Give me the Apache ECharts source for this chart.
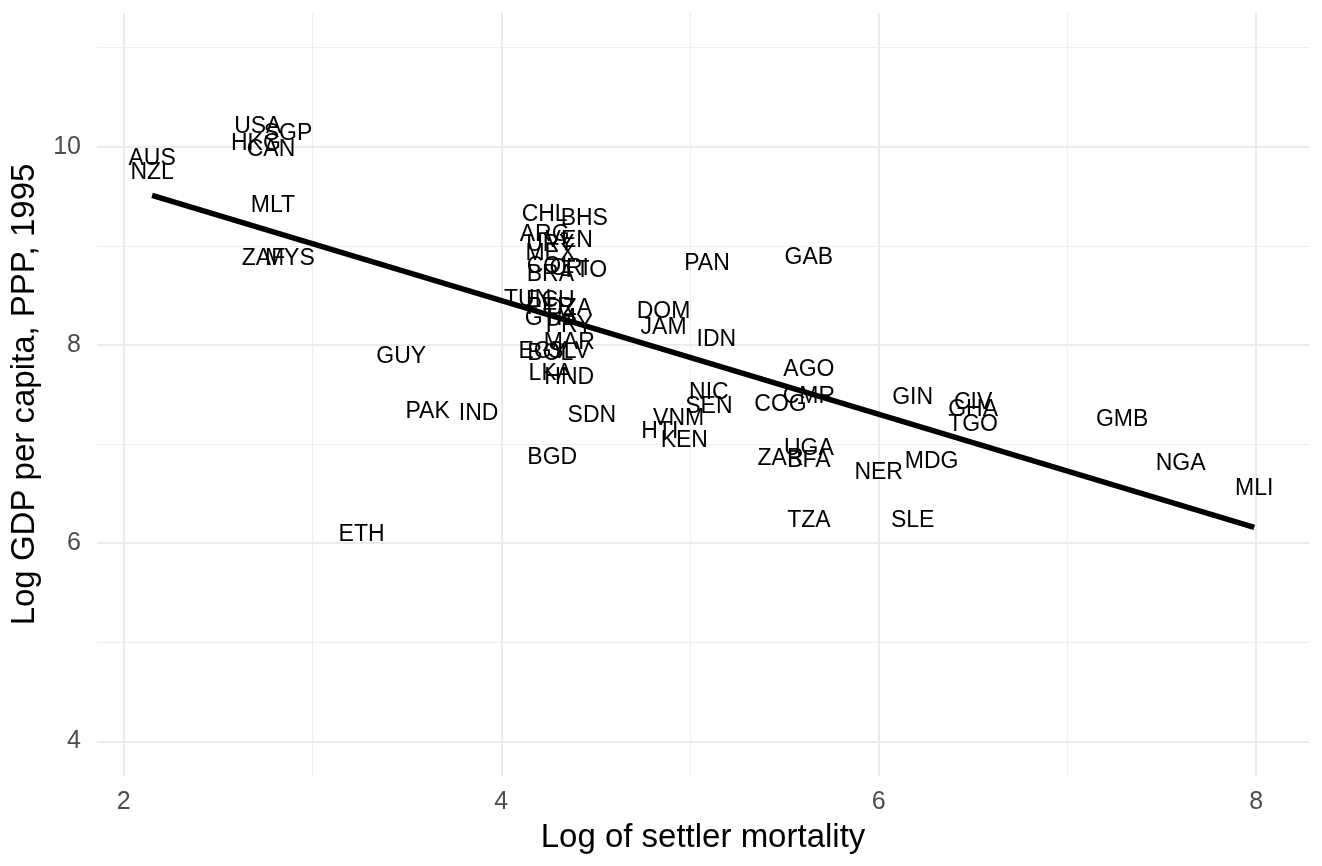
<!DOCTYPE html>
<html>
<head>
<meta charset="utf-8">
<script src="https://cdn.jsdelivr.net/npm/echarts@6/dist/echarts.min.js"></script>
<style>
  html, body { margin: 0; padding: 0; background: #ffffff; }
  #chart { width: 1322px; height: 866px; }
</style>
</head>
<body>
<div id="chart"></div>
<script>
// Country codes, log settler mortality (x), log GDP per capita PPP 1995 (y)
const codes = ['USA','SGP','HKG','CAN','AUS','NZL','MLT','ZAF','MYS','GUY','PAK','IND','ETH',
  'CHL','BHS','ARG','URY','VEN','MEX','COL','CRI','TTO','BRA','TUN','ECU','PER','DZA','GTM','PRY',
  'MAR','EGY','BOL','SLV','LKA','HND','BGD','SDN','DOM','JAM','IDN','PAN','NIC','SEN','VNM','HTI',
  'KEN','GAB','AGO','CMR','COG','UGA','ZAR','BFA','TZA','SLE','NER','MDG','GIN','CIV','GHA','TGO',
  'GMB','NGA','MLI'];
const logMort = [2.71,2.87,2.70,2.78,2.15,2.15,2.79,2.74,2.88,3.47,3.61,3.88,3.26,
  4.23,4.44,4.23,4.26,4.36,4.26,4.26,4.36,4.44,4.26,4.14,4.26,4.26,4.36,4.26,4.36,
  4.36,4.22,4.26,4.36,4.26,4.36,4.27,4.48,4.86,4.86,5.14,5.09,5.10,5.10,4.94,4.84,
  4.97,5.63,5.63,5.63,5.48,5.63,5.48,5.63,5.63,6.18,6.00,6.28,6.18,6.50,6.50,6.50,
  7.29,7.60,7.99];
const logGdp = [10.22,10.15,10.05,9.99,9.90,9.76,9.43,8.89,8.89,7.90,7.35,7.33,6.11,
  9.34,9.29,9.13,9.03,9.07,8.94,8.81,8.79,8.77,8.73,8.48,8.47,8.40,8.39,8.29,8.21,
  8.04,7.95,7.93,7.95,7.73,7.69,6.88,7.31,8.36,8.19,8.07,8.84,7.54,7.40,7.28,7.15,
  7.05,8.90,7.77,7.50,7.42,6.97,6.87,6.85,6.25,6.25,6.73,6.84,7.49,7.44,7.37,7.22,
  7.27,6.82,6.57];
// Fitted OLS line endpoints
const fitX = [2.15, 7.99];
const fitY = [9.51, 6.16];
// Tick values
const xMajor = [2, 4, 6, 8];
const xMinor = [3, 5, 7];
const yMajor = [4, 6, 8, 10];
const yMinor = [5, 7, 9, 11];

const FONT = '"Liberation Sans", Arial, Helvetica, sans-serif';
const pts = codes.map((c, i) => ({ value: [logMort[i], logGdp[i]], name: c }));
const fitLine = fitX.map((x, i) => [x, fitY[i]]);

const xRange = { min: 1.858, max: 8.28 };
const yRange = { min: 3.65, max: 11.35 };

const majorSplit = { show: true, lineStyle: { color: '#EBEBEB', width: 2 } };
const minorSplit = { show: true, lineStyle: { color: '#EEEEEE', width: 1.2 } };

const chart = echarts.init(document.getElementById('chart'), null, { renderer: 'canvas' });
chart.setOption({
  backgroundColor: '#ffffff',
  animation: false,
  grid: { left: 96, right: 13, top: 13, bottom: 90, containLabel: false },
  xAxis: [
    {
      type: 'value', min: xRange.min, max: xRange.max,
      name: 'Log of settler mortality', nameLocation: 'middle', nameGap: 45,
      nameTextStyle: { fontFamily: FONT, fontSize: 33, color: '#000000' },
      axisLine: { show: false },
      axisTick: { show: false, customValues: xMajor },
      axisLabel: { customValues: xMajor, fontFamily: FONT, fontSize: 25, color: '#4D4D4D', margin: 14 },
      splitLine: majorSplit
    },
    {
      type: 'value', min: xRange.min, max: xRange.max, position: 'bottom',
      axisLine: { show: false },
      axisTick: { show: false, customValues: xMinor },
      axisLabel: { show: false, customValues: xMinor },
      splitLine: minorSplit
    }
  ],
  yAxis: [
    {
      type: 'value', min: yRange.min, max: yRange.max,
      name: 'Log GDP per capita, PPP, 1995', nameLocation: 'middle', nameGap: 56,
      nameTextStyle: { fontFamily: FONT, fontSize: 33, color: '#000000' },
      axisLine: { show: false },
      axisTick: { show: false, customValues: yMajor },
      axisLabel: { customValues: yMajor, fontFamily: FONT, fontSize: 25, color: '#4D4D4D', margin: 16 },
      splitLine: majorSplit
    },
    {
      type: 'value', min: yRange.min, max: yRange.max, position: 'left',
      axisLine: { show: false },
      axisTick: { show: false, customValues: yMinor },
      axisLabel: { show: false, customValues: yMinor },
      splitLine: minorSplit
    }
  ],
  series: [
    {
      type: 'line', data: fitLine, xAxisIndex: 0, yAxisIndex: 0,
      symbol: 'none', lineStyle: { color: '#000000', width: 5.5 }, z: 3, silent: true
    },
    {
      type: 'scatter', data: pts, xAxisIndex: 0, yAxisIndex: 0,
      symbol: 'rect', symbolSize: 2, itemStyle: { color: '#ffffff', opacity: 0 }, z: 4,
      silent: true,
      label: {
        show: true, position: [1, 3], formatter: '{b}',
        fontFamily: FONT, fontSize: 23, color: '#000000', opacity: 1,
        align: 'center', verticalAlign: 'middle'
      },
      emphasis: { disabled: true },
      labelLayout: { hideOverlap: false }
    }
  ]
});
</script>
</body>
</html>
